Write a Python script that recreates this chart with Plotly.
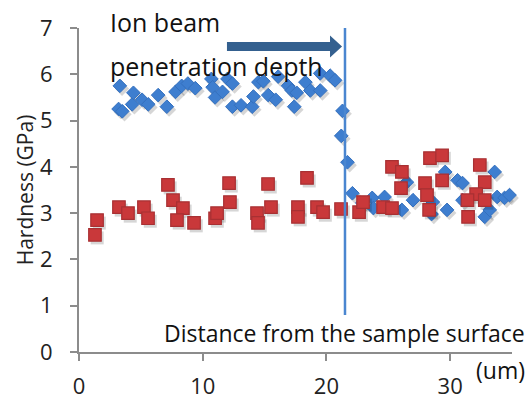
import plotly.graph_objects as go

# Blue diamonds (irradiated series)
blue_x = [3.2, 3.3, 3.5, 4.3, 4.4, 5.1, 5.6, 6.4, 7.1, 7.8, 8.3, 8.8, 9.4, 10.7, 10.8, 11.0,
          11.6, 12.0, 12.4, 12.4, 13.1, 14.0, 14.1, 14.5, 14.9, 15.3, 15.9, 16.1, 16.9, 17.2,
          17.4, 17.6, 18.3, 18.7, 19.5, 19.5, 20.3, 20.7, 21.3, 21.2, 21.7,
          22.1, 22.9, 23.7, 23.8, 24.7, 26.1, 26.5, 27.0, 28.6, 28.5, 29.6, 29.75, 30.6, 31.0,
          31.0, 32.8, 33.2, 33.6, 33.8, 34.4, 34.8, 35.4]
blue_y = [5.25, 5.75, 5.2, 5.35, 5.6, 5.45, 5.35, 5.55, 5.3, 5.62, 5.75, 5.8, 5.7, 5.9, 5.72, 5.5,
          5.62, 5.9, 5.8, 5.3, 5.33, 5.3, 5.52, 5.83, 5.85, 5.55, 5.45, 5.95, 5.75, 5.65,
          5.3, 5.6, 5.83, 5.65, 5.65, 6.02, 5.97, 5.87, 5.21, 4.67, 4.1,
          3.43, 3.22, 3.33, 3.11, 3.35, 3.07, 3.67, 3.28, 3.24, 2.98, 3.89, 3.07, 3.71, 3.65,
          3.28, 2.92, 3.07, 3.89, 3.35, 3.33, 3.39, 3.13]

# Red squares (unirradiated series)
red_x = [1.46, 1.29, 3.23, 3.96, 5.25, 5.58, 7.19, 7.6, 8.4, 7.92, 9.3, 11.0, 11.16, 12.13, 12.2,
         14.39, 14.47, 15.28, 15.52, 17.7, 17.7, 18.43, 19.24, 19.73, 21.18, 22.64, 22.96,
         24.58, 25.3, 25.3, 26.1, 26.03, 27.97, 28.13, 28.37, 29.35, 29.35, 28.3, 32.4, 32.8,
         32.1, 31.4, 31.45, 32.8]
red_y = [2.85, 2.53, 3.13, 3.0, 3.13, 2.89, 3.61, 3.28, 3.11, 2.85, 2.79, 2.89, 3.0, 3.65, 3.24,
         3.0, 2.79, 3.63, 3.13, 3.13, 2.92, 3.76, 3.13, 3.02, 3.09, 3.02, 3.24,
         3.13, 3.11, 4.0, 3.89, 3.54, 3.65, 3.39, 4.19, 4.25, 3.71, 3.07, 4.04, 3.67,
         3.41, 3.28, 2.92, 3.28]

x_ticks = [0, 10, 20, 30]
y_ticks = [0, 1, 2, 3, 4, 5, 6, 7]
depth_x = 21.5

FONT = "Open Sans"
# shadow offset (style only)
sdx, sdy = 0.18, -0.065

fig = go.Figure()
fig.add_trace(go.Scatter(x=[v + sdx for v in blue_x], y=[v + sdy for v in blue_y], mode="markers",
                         marker=dict(symbol="diamond", size=11, color="rgba(0,0,0,0.16)"),
                         cliponaxis=False, hoverinfo="skip", showlegend=False))
fig.add_trace(go.Scatter(x=blue_x, y=blue_y, mode="markers",
                         marker=dict(symbol="diamond", size=10.5, color="#3E7ECF",
                                     line=dict(color="#3470BE", width=1)),
                         cliponaxis=False, showlegend=False))
fig.add_trace(go.Scatter(x=[v + sdx for v in red_x], y=[v + sdy for v in red_y], mode="markers",
                         marker=dict(symbol="square", size=13, color="rgba(0,0,0,0.16)"),
                         cliponaxis=False, hoverinfo="skip", showlegend=False))
fig.add_trace(go.Scatter(x=red_x, y=red_y, mode="markers",
                         marker=dict(symbol="square", size=12.5, color="#C9383A",
                                     line=dict(color="#A83033", width=1.2)),
                         cliponaxis=False, showlegend=False))

# penetration depth line
fig.add_shape(type="line", x0=depth_x, x1=depth_x, y0=0.8, y1=7.0, xref="x", yref="y",
              line=dict(color="#4A86D0", width=2.5))
# arrow
ay, bh, hh = 6.60, 0.097, 0.238
x0, xh, xt = 11.96, 20.29, 21.26
fig.add_shape(type="path", xref="x", yref="y",
              path=f"M {x0},{ay-bh} L {xh},{ay-bh} L {xh},{ay-hh} L {xt},{ay} L {xh},{ay+hh} L {xh},{ay+bh} L {x0},{ay+bh} Z",
              fillcolor="#34608F", line=dict(width=0))

fig.add_annotation(text="Ion beam", x=2.34, y=1.02, xref="x", yref="paper", xanchor="left",
                   yanchor="middle", showarrow=False, font=dict(family=FONT, size=25, color="#111"))
fig.add_annotation(text="penetration depth", x=2.34, y=0.884, xref="x", yref="paper", xanchor="left",
                   yanchor="middle", showarrow=False, font=dict(family=FONT, size=25, color="#111"))
fig.add_annotation(text="Distance from the sample surface", x=1.034, y=0.058, xref="paper", yref="paper",
                   xanchor="right", yanchor="middle", showarrow=False,
                   font=dict(family=FONT, size=23, color="#111"))
fig.add_annotation(text="(um)", x=1.034, y=-0.057, xref="paper", yref="paper",
                   xanchor="right", yanchor="middle", showarrow=False,
                   font=dict(family=FONT, size=23, color="#111"))

fig.update_layout(
    width=527, height=399, margin=dict(l=79, r=15, t=28, b=47, autoexpand=False),
    plot_bgcolor="white", paper_bgcolor="white",
    font=dict(family=FONT, size=22, color="#222"),
    xaxis=dict(range=[0, 35], tickvals=x_ticks, showgrid=False, zeroline=False, automargin=False,
               showline=True, linecolor="#8C8C8C", linewidth=2, ticks="outside",
               ticklen=7, tickwidth=2, tickcolor="#8C8C8C", ticklabelstandoff=7,
               tickfont=dict(family=FONT, size=22, color="#222")),
    yaxis=dict(range=[0, 7], tickvals=y_ticks, showgrid=False, zeroline=False, automargin=False,
               showline=True, linecolor="#8C8C8C", linewidth=2, ticks="outside",
               ticklen=7, tickwidth=2, tickcolor="#8C8C8C", ticklabelstandoff=13,
               tickfont=dict(family=FONT, size=22, color="#222"),
               title=dict(text="Hardness (GPa)", font=dict(family=FONT, size=21, color="#222"),
                          standoff=1)),
)

fig.write_html("out.html")
